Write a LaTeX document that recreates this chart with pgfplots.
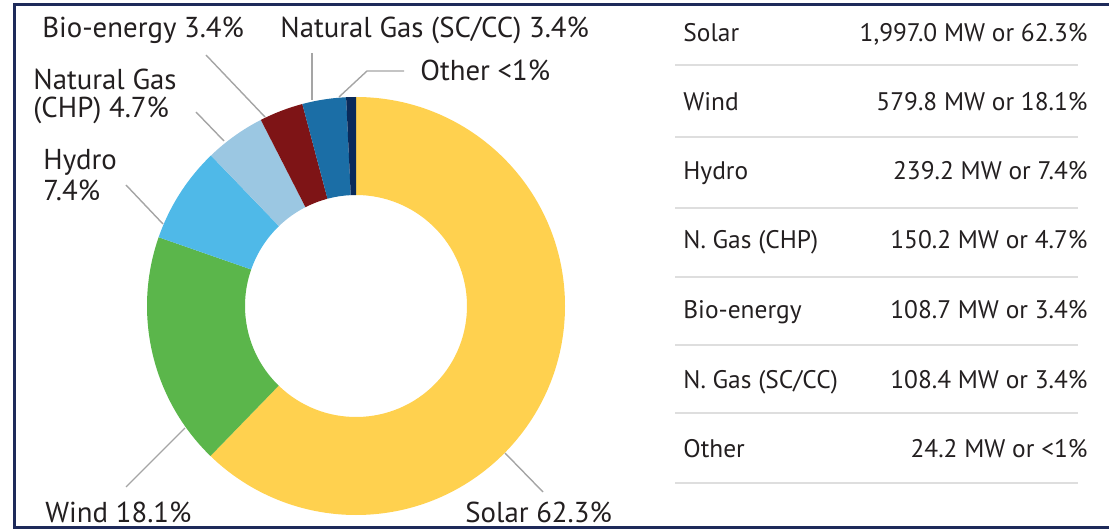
\documentclass[border=0pt]{standalone}
\usepackage{pgfplots}
\pgfplotsset{compat=1.18}
\usepackage{pgfplotstable}
\usepackage{fontspec}
\setmainfont{PT Sans}
\usetikzlibrary{calc}

\definecolor{csolar}{HTML}{FFD14F}
\definecolor{cwind}{HTML}{5BB64B}
\definecolor{chydro}{HTML}{4FB9E8}
\definecolor{cchp}{HTML}{9BC7E2}
\definecolor{cbio}{HTML}{7E1416}
\definecolor{cscc}{HTML}{1B6EA6}
\definecolor{cother}{HTML}{0A2A5A}
\definecolor{frame}{HTML}{1E2A5A}
\definecolor{lead}{HTML}{A5A5A5}
\definecolor{rule}{HTML}{DEDEDE}
\definecolor{txt}{HTML}{231F20}

% installed capacity, MW
\pgfplotstableread[col sep=comma]{
name,mw,col
Solar,1997.0,csolar
Wind,579.8,cwind
Hydro,239.2,chydro
CHP,150.2,cchp
Bio,108.7,cbio
SCCC,108.4,cscc
Other,24.2,cother
}\mix

% slice angles, clockwise from the top
\gdef\total{0}
\foreach \i in {0,...,6}{%
  \pgfplotstablegetelem{\i}{mw}\of\mix
  \pgfmathsetmacro\tsum{\total+\pgfplotsretval}%
  \xdef\total{\tsum}}
\gdef\cum{0}
\foreach \i in {0,...,6}{%
  \pgfplotstablegetelem{\i}{mw}\of\mix
  \pgfmathsetmacro\angS{90-360*(\cum/\total)}%
  \pgfmathsetmacro\cumnew{\cum+\pgfplotsretval}%
  \pgfmathsetmacro\angE{90-360*(\cumnew/\total)}%
  \expandafter\xdef\csname aS\i\endcsname{\angS}%
  \expandafter\xdef\csname aE\i\endcsname{\angE}%
  \xdef\cum{\cumnew}%
  \pgfplotstablegetelem{\i}{col}\of\mix
  \expandafter\xdef\csname sc\i\endcsname{\pgfplotsretval}}

\def\Rout{104.5pt}
\def\Rin{55.5pt}
\tikzset{lab/.style={anchor=base west,inner sep=0pt,text=txt,font=\fontsize{14.4}{17}\selectfont},
  tl/.style={anchor=base west,inner sep=0pt,text=txt,font=\fontsize{12.7}{15}\selectfont},
  tr/.style={anchor=base east,inner sep=0pt,text=txt,font=\fontsize{12.7}{15}\selectfont},
  leader/.style={lead,line width=0.7pt}}

\begin{document}
\begin{tikzpicture}
\begin{axis}[x=0.5pt,y=0.5pt,xmin=0,xmax=1109,ymin=0,ymax=529,
  y dir=reverse,hide axis,clip=false]
\coordinate (bl) at (axis cs:0,529);
\coordinate (tr) at (axis cs:1109,0);

% donut
\pgfplotsinvokeforeach{0,...,6}{
  \fill[fill=\csname sc#1\endcsname]
    ($(axis cs:356,306)+(\csname aS#1\endcsname:\Rout)$)
    arc[start angle=\csname aS#1\endcsname,end angle=\csname aE#1\endcsname,radius=\Rout]
    -- ($(axis cs:356,306)+(\csname aE#1\endcsname:\Rin)$)
    arc[start angle=\csname aE#1\endcsname,end angle=\csname aS#1\endcsname,radius=\Rin]
    -- cycle;
}

% leader lines
\draw[leader] (axis cs:126,185) -- (axis cs:163,224);
\draw[leader] (axis cs:196,112) -- (axis cs:224,141);
\draw[leader] (axis cs:206,55) -- (axis cs:265,117);
\draw[leader] (axis cs:312,53) -- (axis cs:312,100);
\draw[leader] (axis cs:404,71) -- (axis cs:367,71) -- (axis cs:339,97);
\draw[leader] (axis cs:126,487) -- (axis cs:185,428);
\draw[leader] (axis cs:505,453) -- (axis cs:543,492);

% slice labels
\node[lab] at (axis cs:42,38) {Bio-energy 3.4\%};
\node[lab] at (axis cs:280,38) {Natural Gas (SC/CC) 3.4\%};
\node[lab] at (axis cs:420,81) {Other <1\%};
\node[lab] at (axis cs:33,90) {Natural Gas};
\node[lab] at (axis cs:33,118) {(CHP) 4.7\%};
\node[lab] at (axis cs:43,170) {Hydro};
\node[lab] at (axis cs:43,201) {7.4\%};
\node[lab] at (axis cs:45,522) {Wind 18.1\%};
\node[lab] at (axis cs:465,522) {Solar 62.3\%};

% table
\foreach \yy in {65,137,208,277,345,413,483}{
  \edef\tmp{\noexpand\draw[rule,line width=1pt] (axis cs:675,\yy) -- (axis cs:1078,\yy);}\tmp
}
\node[tl] at (axis cs:683,42) {Solar};
\node[tr] at (axis cs:1088,42) {1,997.0 MW or 62.3\%};
\node[tl] at (axis cs:683,111) {Wind};
\node[tr] at (axis cs:1088,111) {579.8 MW or 18.1\%};
\node[tl] at (axis cs:683,180) {Hydro};
\node[tr] at (axis cs:1088,180) {239.2 MW or 7.4\%};
\node[tl] at (axis cs:683,249) {N. Gas (CHP)};
\node[tr] at (axis cs:1088,249) {150.2 MW or 4.7\%};
\node[tl] at (axis cs:683,319) {Bio-energy};
\node[tr] at (axis cs:1088,319) {108.7 MW or 3.4\%};
\node[tl] at (axis cs:683,388) {N. Gas (SC/CC)};
\node[tr] at (axis cs:1088,388) {108.4 MW or 3.4\%};
\node[tl] at (axis cs:683,457) {Other};
\node[tr] at (axis cs:1088,457) {24.2 MW or <1\%};

% frame
\draw[frame,line width=1.5pt] (axis cs:1109,4.7) -- (axis cs:14.7,4.7) -- (axis cs:14.7,527.2) -- (axis cs:1109,527.2);
\end{axis}
\pgfresetboundingbox
\useasboundingbox (bl) rectangle (tr);
\end{tikzpicture}
\end{document}
